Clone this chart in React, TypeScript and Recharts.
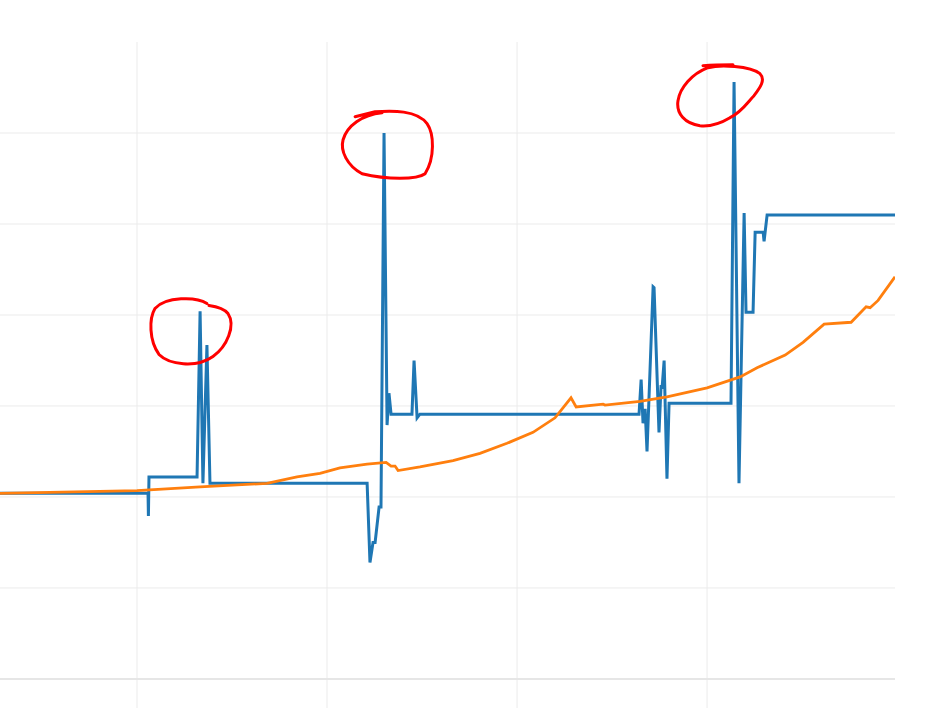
import { LineChart, Line, XAxis, YAxis, ReferenceLine, ReferenceDot } from 'recharts'

// values (x in index units, y in value units)
const blueX = [27.9, 105.8, 106.0, 106.3, 131.6, 133.2, 134.7, 136.8, 138.4, 221.1, 222.6, 224.2, 225.3, 227.4, 228.4, 230.0, 231.6, 232.6, 233.7, 244.7, 245.8, 247.4, 248.9, 364.2, 365.3, 366.3, 367.4, 368.4, 371.6, 372.1, 374.7, 375.8, 376.3, 377.4, 378.9, 380.0, 412.6, 414.2, 416.8, 419.5, 420.5, 424.2, 425.3, 429.5, 430.0, 431.6, 498.9]
const blueY = [20.4, 20.4, 17.9, 22.2, 22.2, 40.4, 21.5, 36.7, 21.5, 21.5, 12.8, 15.0, 15.0, 18.9, 18.9, 60.0, 27.9, 31.4, 29.1, 29.1, 35.0, 28.7, 29.1, 29.1, 32.9, 28.1, 29.7, 25.0, 43.1, 43.0, 27.1, 32.3, 31.9, 35.0, 22.0, 30.3, 30.3, 65.6, 21.5, 51.2, 40.3, 40.3, 49.1, 49.1, 48.1, 51.0, 51.0]

const orangeX = [27.9, 100, 133.2, 168.4, 184.2, 196.3, 206.8, 221.1, 231.1, 233.7, 235.8, 237.4, 248.9, 266.3, 280.5, 294.7, 308.4, 320.0, 328.4, 331.1, 345.3, 346.3, 364.7, 378.9, 400, 417.4, 426.3, 441.1, 450.5, 461.6, 475.8, 483.7, 485.8, 490.0, 498.9]
const orangeY = [20.4, 20.7, 21.1, 21.5, 22.2, 22.6, 23.2, 23.6, 23.8, 23.4, 23.4, 22.9, 23.3, 24.0, 24.8, 25.9, 27.1, 28.7, 30.9, 29.9, 30.2, 30.1, 30.5, 31.0, 32.0, 33.2, 34.2, 35.6, 37.0, 39.0, 39.2, 40.9, 40.8, 41.6, 44.2]

const xTicks = [100, 200, 300, 400]
const yTicks = [10, 20, 30, 40, 50, 60]

// hand-drawn marks around the peaks
const circleSpots = [
  { x: 128.4, y: 38.3 },
  { x: 231.6, y: 58.6 },
  { x: 406.8, y: 64.1 },
]
const circlePaths = [
  'M 16 -27 C 5 -34, -25 -34, -36 -22 C -42 -12, -42 10, -32 24 C -22 34, 5 38, 22 26 C 36 16, 45 -5, 37 -17 C 33 -22, 25 -24, 18 -25',
  'M -32 -29 L -12 -34 C 5 -35, 30 -36, 40 -22 C 47 -12, 48 12, 38 28 C 30 34, 0 34, -25 28 C -40 20, -47 5, -44 -6 C -40 -20, -25 -31, -5 -33',
  'M -17 -30 C -5 -31, 5 -31, 13 -31 M -12 -28 C 0 -31, 30 -30, 40 -22 C 46 -16, 40 -8, 34 0 C 28 6, 22 16, 10 22 C 0 28, -10 31, -20 30 C -35 28, -44 18, -42 5 C -40 -8, -28 -22, -12 -28',
]

const blue = blueX.map((x, i) => ({ x, y: blueY[i] }))
const orange = orangeX.map((x, i) => ({ x, y: orangeY[i] }))

export default function App() {
  return (
    <div style={{ position: 'absolute', left: 0, top: 0, background: '#fff' }}>
      <LineChart width={931} height={708} margin={{ top: 42, right: 36, bottom: 0, left: 0 }}>
        <XAxis
          type="number"
          dataKey="x"
          domain={[27.9, 498.9]}
          allowDataOverflow
          hide
        />
        <YAxis
          type="number"
          domain={[-3.19, 70]}
          allowDataOverflow
          hide
        />
        {xTicks.map(t => (
          <ReferenceLine key={'x' + t} x={t} stroke="#ebebeb" strokeWidth={1} />
        ))}
        {yTicks.map(t => (
          <ReferenceLine key={'y' + t} y={t} stroke="#ebebeb" strokeWidth={1} />
        ))}
        <ReferenceLine y={0} stroke="#e6e6e6" strokeWidth={2} />
        <Line data={blue} dataKey="y" type="linear" stroke="#1f77b4" strokeWidth={3} dot={false} isAnimationActive={false} />
        <Line data={orange} dataKey="y" type="linear" stroke="#ff7f0e" strokeWidth={2.8} dot={false} isAnimationActive={false} />
        {circleSpots.map((s, i) => (
          <ReferenceDot
            key={i}
            x={s.x}
            y={s.y}
            ifOverflow="visible"
            shape={(p: any) => (
              <path
                d={circlePaths[i]}
                transform={`translate(${p.cx},${p.cy})`}
                fill="none"
                stroke="#ff0000"
                strokeWidth={3}
                strokeLinecap="round"
                strokeLinejoin="round"
              />
            )}
          />
        ))}
      </LineChart>
    </div>
  )
}
